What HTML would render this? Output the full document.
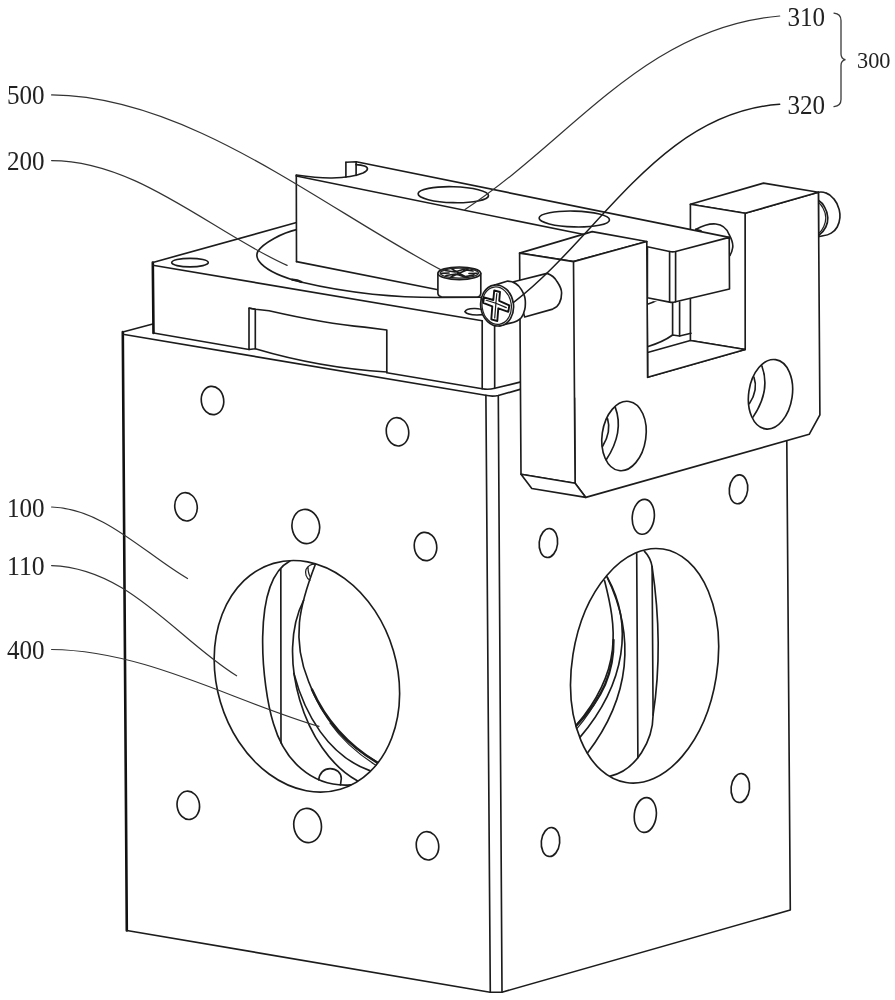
<!DOCTYPE html>
<html>
<head>
<meta charset="utf-8">
<title>Figure</title>
<style>
html,body{margin:0;padding:0;background:#fff;}
body{width:895px;height:1000px;overflow:hidden;}
svg{display:block;}
.m{fill:none;stroke:#1c1c1c;stroke-width:1.65;stroke-linecap:round;stroke-linejoin:round;}
.k{fill:none;stroke:#111;stroke-width:2.6;stroke-linecap:round;stroke-linejoin:round;}
.t{fill:none;stroke:#222;stroke-width:1.25;stroke-linecap:round;stroke-linejoin:round;}
.l{fill:none;stroke:#333;stroke-width:1.2;stroke-linecap:round;}
.l2{fill:none;stroke:#1c1c1c;stroke-width:1.5;stroke-linecap:round;}
.w{fill:#fff;stroke:#1c1c1c;stroke-width:1.65;stroke-linejoin:round;}
text{font-family:"Liberation Serif","Noto Serif CJK SC",serif;fill:#222;}
.n{font-size:27px;}
.s{font-size:23.5px;}
svg{will-change:transform;}</style>
</head>
<body>
<svg width="895" height="1000" viewBox="0 0 895 1000">
<rect width="895" height="1000" fill="#fff"/>

<!-- ===== main body 100 ===== -->
<g id="body">
<path class="k" d="M122.8,332 L126.8,930.5"/>
<path class="m" d="M126.8,930.5 L490.1,992.2 L502,992.2 L790.3,910 L786.8,441.5"/>
<path class="m" d="M122.8,334.3 L485.6,395.3 Q492,396.7 498.3,395.5 L520,389.4"/>
<path class="m" d="M122.8,332 L152.8,324"/>
<path class="m" d="M485.9,395.4 L490.3,992"/>
<path class="m" d="M498.3,395.5 L502,992"/>
</g>


<!-- ===== top plate 200 ===== -->
<g id="plate">
<path class="k" d="M152.8,262.5 L153.5,333"/>
<path class="m" d="M152.8,262.5 L296.5,222.5"/>
<path class="m" d="M152.8,265.3 L482.2,320.7"/>
<path class="m" d="M153.5,333 L249,349.5"/>
<path class="m" d="M249,349.5 L249,308 L255.3,309.3 L255.3,348.8 Z"/>
<path class="m" d="M249.3,308.3 L255.5,309.2 L269,310.7 C290,315.5 330,324 364.5,327.1 L386.8,330 L386.8,372"/>
<path class="m" d="M255.3,348.8 Q320,368 386.8,372"/>
<path class="m" d="M386.8,372.8 L482.2,388.8 Q488.5,390 494.7,388.3 L520,382.1"/>
<path class="m" d="M482.2,320.7 L482.2,388.8"/>
<path class="m" d="M494.6,324 L494.7,388.3"/>
<ellipse class="m" cx="190" cy="262.6" rx="18.3" ry="4.3"/>
<!-- big circle on plate top -->
<path class="m" d="M296.5,229.6 C283,232.5 263,243 257.8,251.5 C255.5,256 258,260.5 261.3,263.8 C268,270.5 283,277.5 302,282.3 C325,287.8 350,291.8 372.6,294.2 C395,296.4 420,297.4 438.3,297.5 L483,297.2"/>
<path d="M291.5,279.6 Q297,279.3 302,282.3" fill="none" stroke="#1c1c1c" stroke-width="2.2"/>
</g>



<!-- small holes front -->
<g id="holesF" class="m">
<ellipse cx="212.5" cy="400.5" rx="11.2" ry="14.2" transform="rotate(-8 212.5 400.5)"/>
<ellipse cx="186" cy="506.8" rx="11.2" ry="14.2" transform="rotate(-8 186 506.8)"/>
<ellipse cx="305.8" cy="526.5" rx="13.8" ry="17.2" transform="rotate(-8 305.8 526.5)"/>
<ellipse cx="397.5" cy="431.8" rx="11.2" ry="14.2" transform="rotate(-8 397.5 431.8)"/>
<ellipse cx="425.5" cy="546.5" rx="11.2" ry="14.2" transform="rotate(-8 425.5 546.5)"/>
<ellipse cx="188.3" cy="805.3" rx="11.2" ry="14.2" transform="rotate(-8 188.3 805.3)"/>
<ellipse cx="307.6" cy="825.5" rx="13.8" ry="17.2" transform="rotate(-8 307.6 825.5)"/>
<ellipse cx="427.5" cy="845.8" rx="11.2" ry="14.2" transform="rotate(-8 427.5 845.8)"/>
</g>
<!-- small holes right -->
<g id="holesR" class="m">
<ellipse cx="548.4" cy="543" rx="9.2" ry="14.5" transform="rotate(6 548.4 543)"/>
<ellipse cx="643.3" cy="516.8" rx="11" ry="17.5" transform="rotate(6 643.3 516.8)"/>
<ellipse cx="738.5" cy="489.3" rx="9.2" ry="14.5" transform="rotate(6 738.5 489.3)"/>
<ellipse cx="550.5" cy="842" rx="9.2" ry="14.5" transform="rotate(6 550.5 842)"/>
<ellipse cx="645.3" cy="815" rx="11" ry="17.5" transform="rotate(6 645.3 815)"/>
<ellipse cx="740.3" cy="788" rx="9.2" ry="14.5" transform="rotate(6 740.3 788)"/>
</g>



<!-- ===== bracket back part (right pillar) ===== -->
<g id="bracketBack">
<!-- right pin head -->
<path class="w" d="M818.4,192.2 C821,191.8 823.5,192 825.8,192.9 C829,194 831.8,196.2 833.9,198.9 C836.5,202 838.3,205.8 839.2,209.6 C839.9,212.5 840.1,215 839.9,217.7 C839.6,221 838.7,224.2 837.2,227 C835.8,229.6 833.6,231.7 831.2,233.1 C828.7,234.6 826,235.4 823.1,235.8 L818.4,236.7 Z"/>
<path class="m" d="M818.4,200.2 C821,201.8 823,204 824.5,206.9 C826.5,210.3 827.7,214 827.8,217.7 C827.9,221 827.2,224.3 825.8,227 C824.3,230 822,233 819.1,235.1"/>
<path class="t" d="M818.6,202.5 C820.5,204 822,206 823.1,208.3 C824.8,211.3 825.7,214.5 825.8,217.7 C825.8,220.8 825,223.8 823.8,226.4 C822.6,229 821,231.3 819.1,233.1"/>
<!-- right face of bracket -->
<path class="w" d="M573.5,261.6 L646.8,241.5 L647.6,377.3 L745.2,349.5 L745.1,213.2 L818.4,192.2 L819.9,414.9 L809.2,434.3 L585.8,497.4 L575.1,483.3 Z"/>
<path class="w" d="M690.4,204.3 L763.5,183.1 L818.4,192.2 L745.1,213.2 Z"/>
<path class="w" d="M690.4,204.3 L745.1,213.2 L745.2,349.5 L690.4,340.5 Z"/>
<path class="w" d="M647.6,377.3 L745.2,349.5 L690.4,340.5 L647.6,352.5 Z"/>
<!-- inner U details -->
<path class="m" d="M647.4,346.7 Q663,342 672.6,335 L679.6,336 L691,333.3"/>
<path class="m" d="M672.6,302 L672.6,335"/>
<path class="m" d="M679.6,302 L679.6,336"/>
<path class="m" d="M647.4,299 L656.8,300.3 Q652,303 647.4,304.3"/>
<!-- pin between block and right pillar -->
<path class="w" d="M695.7,229.4 C703,225.5 710,223.5 715.8,224 C722,224.5 727,229 729.2,234.7 C732,240 733.5,244 732.6,248 C732,252 731,254 729.9,255.5 Z"/>
<path class="m" d="M695.7,229.4 L701,230.8"/>
</g>

<!-- ===== block 310 ===== -->
<g id="block310">
<path class="w" d="M296.3,175.2 C303,176 320,178.2 332,178 L345.9,177.2 L345.9,162.3 L356.3,161.8 L729.2,237.4 L729.5,289 L675.6,301.8 Q672.6,302.8 669.6,302.1 L438,289.5 L296.5,261.6 Z" style="stroke:none"/>
<path class="m" d="M296.3,175.2 L296.5,261.6"/>
<path class="m" d="M296.5,261.6 L438,289.7"/>
<path class="m" d="M296.3,176 L582.8,234.3"/>
<path class="m" d="M345.9,162.3 L356.3,161.8 L729.2,237.4"/>
<path class="m" d="M296.3,175 C303,176 320,178.2 332,178 C345,177.6 357,175.5 363,173 C368.5,170.5 368.8,167.6 364.5,166 C362,165.2 359,164.8 356,164.6"/>
<path class="m" d="M345.9,162.3 L345.9,177.2"/>
<path class="m" d="M356.1,161.8 L356.1,175.4"/>
<ellipse class="m" cx="453.3" cy="194.7" rx="35.2" ry="8" transform="rotate(1.5 453.3 194.7)"/>
<ellipse class="m" cx="574.3" cy="219" rx="35.2" ry="7.9" transform="rotate(1.5 574.3 219)"/>
<!-- end stub -->
<path class="w" d="M647.4,246.8 L669.6,251.5 Q672.6,252.2 675.6,251.5 L729.2,237.4 L729.5,289 L675.6,301.8 Q672.6,302.8 669.6,302.1 L647.4,297.8 Z"/>
<path class="m" d="M669.6,251.5 L669.6,302.1"/>
<path class="m" d="M675.6,251.5 L675.6,301.8"/>
</g>

<!-- ===== bracket 320 front (left pillar) ===== -->
<g id="bracket">
<path class="w" d="M519.6,253.1 L592.2,231.6 L646.8,241.5 L573.5,261.6 Z"/>
<path class="w" d="M573.5,261.6 L646.8,241.5 L647.6,377.3 L574.2,398 Z" style="stroke:none"/>
<path class="m" d="M573.5,261.6 L646.8,241.5 L647.6,377.3"/>
<path class="w" d="M519.6,253.1 L573.5,261.6 L575.1,483.3 L521,474.2 Z"/>
<path class="w" d="M521,474.2 L575.1,483.3 L585.8,497.4 L531.8,488.5 Z"/>
<!-- holes in bracket -->
<ellipse class="m" cx="624" cy="436" rx="21.9" ry="34.9" transform="rotate(8.2 624 436)"/>
<path class="m" d="M615.2,407.1 Q624.5,432 606.2,459.8"/>
<path class="m" d="M607.6,418.8 Q611.5,432 602.6,446.3"/>
<ellipse class="m" cx="770.5" cy="394.3" rx="21.8" ry="35" transform="rotate(8.4 770.5 394.3)"/>
<path class="m" d="M761.8,365.8 Q771,390.5 753,417.1"/>
<path class="m" d="M753.9,377 Q758.5,390 749.4,403.6"/>
</g>

<!-- ===== big holes ===== -->
<g id="bigF">
<ellipse class="m" cx="306.9" cy="676.3" rx="90.2" ry="117.8" transform="rotate(-16.5 306.9 676.3)"/>
<path class="m" d="M280.8,569.3 L281,743"/>
<path class="m" d="M289.9,560.9 C250.6,582.0 262.1,687.9 273.5,723.7 C284.0,759.4 311.0,787.7 350.6,784.9"/>
<path class="m" d="M315.4,564.2 C299.4,605.5 291.1,638.9 308.7,681.8 C321.9,717.6 343.8,744.2 377.4,762.2"/>
<path d="M312,689.5 C325,718.5 346,743.5 377,762.6" fill="none" stroke="#1c1c1c" stroke-width="2.4" stroke-linecap="round"/>
<path class="t" d="M330,723 C340,737 355,752 376,765.3"/>
<path class="m" d="M303.6,600.3 C275.6,654.8 303.4,751.3 357.3,780.7"/>
<path class="m" d="M293.9,673.4 C304.5,713.8 328.2,755.9 369.8,770.6"/>
<path class="m" d="M318.7,779.8 C319.5,773 324,768.6 330.1,768.6 C336.5,768.6 341.3,773 341.3,778.5 L340.5,784.9"/>
<path class="t" d="M315.4,564.2 C311,564 307.8,566 306,569.5 C304.8,573 306,578 310,580.2 M308,566.5 C308,571 309,575 310.5,577.5"/>
</g>
<g id="bigR">
<ellipse class="m" cx="644.6" cy="665.8" rx="72.5" ry="118.2" transform="rotate(9 644.6 665.8)"/>
<path class="m" d="M636.7,553.7 L637.9,757.7"/>
<path class="m" d="M644.5,551.4 C648.5,555.5 651,560.5 652.1,566.6 L653.1,715 C652.9,740.2 636.5,770.1 610.3,776.1"/>
<path class="m" d="M652.1,566.6 C659.2,614.3 660.4,667.3 653.1,715"/>
<path class="m" d="M604.6,580.8 C616.2,626.6 623.4,670.1 576.1,725.4"/>
<path d="M613.5,640 C614,672 603,698 576.3,725.6" fill="none" stroke="#1c1c1c" stroke-width="2.3" stroke-linecap="round"/>
<path class="t" d="M600,694 C594,706 586,718 577.1,728.3"/>
<path class="m" d="M607.1,577 C633.4,624 626.3,682.7 579.9,737.4"/>
<path class="m" d="M607.1,577 C635.8,636.6 630.3,697.1 587.5,753"/>
</g>

<!-- ===== screw 500 ===== -->
<g id="screw500">
<path class="w" d="M437.9,273.3 L437.9,293.5 Q438.2,296.3 441.5,296.9 L477.5,297 Q480.5,296.5 480.8,293.5 L480.8,273.3 Z"/>
<ellipse class="w" cx="459.3" cy="273.3" rx="21.4" ry="6.3"/>
<ellipse class="t" cx="459.3" cy="273.1" rx="19.2" ry="5"/>
<path d="M445,270.5 L455,272 L463,269.5 L473,271 M446,275.5 L456,274 L464,276.8 L474,275 M452,269 L459,273.3 L467,277.5 M451,277 L459,273.3 L468,269.5 M441.5,273.3 L449,273 M469,273.5 L477,273.3" fill="none" stroke="#1c1c1c" stroke-width="1.7" stroke-linecap="round" stroke-linejoin="round"/>
</g>

<!-- ===== screw 320 ===== -->
<g id="screw320">
<path class="m" d="M465.1,311.7 C465.5,309.5 470,308.4 475,308.5 C479,308.6 482,309.3 483.5,310.5"/>
<path class="m" d="M465.1,311.7 C466,313.6 471,315 477,315 L483,314.6"/>
<path class="w" d="M513.6,281.8 L547.1,273.4 C552,275 555,278 557.2,281.8 C560,286 561.6,290 561.6,292.9 C561.6,297 561,300 559.4,303 C558,306 555.5,308 552.7,309.1 L524.7,317 Z"/>
<path class="w" d="M494.6,285.1 L506.9,281.2 C513,281 518.5,285 521.4,289.6 C524,294 525.3,297.5 525.3,300.8 C525.5,305 525.2,308 524.7,309.7 C524,313 522.8,315.5 521.4,317.5 C519,320.5 514.5,322.3 510.2,323.1 L499,325.9 Z"/>
<ellipse class="w" cx="497.1" cy="305.5" rx="16.4" ry="20.6" transform="rotate(-8 497.1 305.5)"/>
<ellipse class="t" cx="496.7" cy="305.7" rx="14.6" ry="18.8" transform="rotate(-8 496.7 305.7)"/>
<path d="M494.2,290.5 L500,292 L499.2,300.8 L509.3,305.3 L508.3,311.8 L498.3,308.3 L497.3,321 L491.3,319.3 L492.3,306.3 L483.2,302.8 L484,297.3 L493.3,300 Z" fill="none" stroke="#111" stroke-width="1.9" stroke-linejoin="round"/>
<path d="M496.8,293.5 L495.9,303.2 L506.3,307.6 M486.2,300.3 L495.9,303.2 L494.7,318" fill="none" stroke="#1c1c1c" stroke-width="1.2" stroke-linejoin="round" stroke-linecap="round"/>
</g>

<!-- ===== leaders ===== -->
<g id="leaders">
<path class="l" d="M51.6,94.9 C190,96 324,208.8 443,270.9"/>
<path class="l" d="M51.6,160.6 C137.4,160.7 211.8,231.8 287.1,265.4"/>
<path class="l" d="M51.6,507 C103.4,508.5 145.3,554.1 187.5,578.5"/>
<path class="l" d="M51.6,565.6 C128.5,568 176.5,638.4 236.6,675.8"/>
<path class="l" d="M51.6,649.5 C145.6,650.6 230.8,700.3 319,726.4"/>
<path class="l" d="M779.7,16 C643.8,27.6 570.9,140.4 465,209.5"/>
<path class="l2" d="M779.7,104.3 C660,112.4 599.7,236.3 513.3,302.6"/>
</g>

<!-- ===== labels ===== -->
<g id="labels">
<text class="n" x="7" y="104.3" textLength="37.6" lengthAdjust="spacingAndGlyphs">500</text>
<text class="n" x="7" y="169.8" textLength="37.6" lengthAdjust="spacingAndGlyphs">200</text>
<text class="n" x="7" y="516.6" textLength="37.6" lengthAdjust="spacingAndGlyphs">100</text>
<text class="n" x="7" y="574.8" textLength="37.6" lengthAdjust="spacingAndGlyphs">110</text>
<text class="n" x="7" y="659.4" textLength="37.6" lengthAdjust="spacingAndGlyphs">400</text>
<text class="n" x="787.5" y="25.8" textLength="37.6" lengthAdjust="spacingAndGlyphs">310</text>
<text class="n" x="787.5" y="113.9" textLength="37.6" lengthAdjust="spacingAndGlyphs">320</text>
<text class="s" x="857" y="68.1" textLength="33.5" lengthAdjust="spacingAndGlyphs">300</text>
<path d="M834,13.1 C838.5,13.5 841,15.5 841,20.5 L841,54 C841,57 842.5,59 845.4,59.7 C842.5,60.4 841,62.5 841,65.5 L841,99.5 C841,104 838.5,106.2 834,106.6" fill="none" stroke="#3a3a3a" stroke-width="1.3" stroke-linecap="round"/>
</g>
</svg>
</body>
</html>
